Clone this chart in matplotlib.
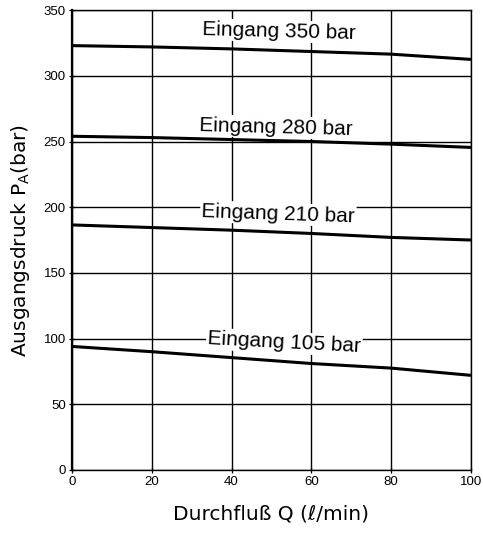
import matplotlib
matplotlib.use("Agg")
import matplotlib.pyplot as plt

plt.rcParams['font.family'] = ['Liberation Sans', 'DejaVu Sans']

# flow rate Q (l/min)
flow = [0, 20, 40, 60, 80, 100]

# outlet pressure per inlet pressure (bar)
p_350 = [323, 322, 320.5, 318.5, 316.5, 312.5]
p_280 = [254, 253, 251.5, 250, 248, 245.5]
p_210 = [186.5, 184.5, 182.5, 180, 177, 175]
p_105 = [94, 90, 85.5, 81, 77.5, 72]

curves = [p_350, p_280, p_210, p_105]
labels = ["Eingang 350 bar", "Eingang 280 bar", "Eingang 210 bar", "Eingang 105 bar"]
label_pos = [(52, 334), (51, 261), (51.7, 195), (53.2, 97)]
label_rot = [-1.5, -1.5, -2, -3]

x_ticks = [0, 20, 40, 60, 80, 100]
y_ticks = [0, 50, 100, 150, 200, 250, 300, 350]

fig = plt.figure(figsize=(4.83, 5.34), dpi=100)
ax = fig.add_axes([0.149, 0.120, 0.826, 0.861])

ax.set_xlim(0, 100)
ax.set_ylim(0, 350)
ax.set_xticks(x_ticks)
ax.set_yticks(y_ticks)
ax.grid(True, color='black', linewidth=1.0)
ax.set_axisbelow(True)

for s in ax.spines.values():
    s.set_linewidth(1.0)
ax.spines['left'].set_linewidth(1.6)

ax.tick_params(direction='inout', length=5, width=0.9, labelsize=9.5, pad=2)

for vals in curves:
    ax.plot(flow, vals, color='black', linewidth=2.2, solid_capstyle='butt')

for txt, (tx, ty), rot in zip(labels, label_pos, label_rot):
    ax.text(tx, ty, txt, fontsize=15, ha='center', va='center', rotation=rot,
            rotation_mode='anchor',
            bbox=dict(facecolor='white', edgecolor='none', pad=1.0))

ax.set_xlabel("Durchfluß Q (ℓ/min)", fontsize=14.5, labelpad=12,
              family=['DejaVu Sans'])
ax.set_ylabel("Ausgangsdruck P$_\\mathregular{A}$(bar)", fontsize=14.5,
              labelpad=8, family=['DejaVu Sans'])

fig.savefig("out.png", dpi=100)
